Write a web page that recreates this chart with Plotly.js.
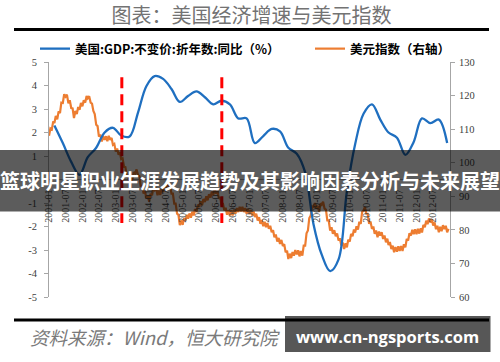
<!DOCTYPE html>
<html><head><meta charset="utf-8">
<script src="https://cdn.plot.ly/plotly-3.0.1.min.js"></script>
<style>html,body{margin:0;padding:0;background:#fff;} #chart{width:500px;height:362px;}</style>
</head><body><div id="chart"></div>
<script>
// ---------- DATA ----------
const gdpDates = [
 '2001-03-01','2001-06-01','2001-09-01','2001-12-01',
 '2002-03-01','2002-06-01','2002-09-01','2002-12-01',
 '2003-03-01','2003-06-01','2003-09-01','2003-12-01',
 '2004-03-01','2004-06-01','2004-09-01','2004-12-01',
 '2005-03-01','2005-06-01','2005-09-01','2005-12-01',
 '2006-03-01','2006-06-01','2006-09-01','2006-12-01',
 '2007-03-01','2007-06-01','2007-09-01','2007-12-01',
 '2008-03-01','2008-06-01','2008-09-01','2008-12-01',
 '2009-03-01','2009-06-01','2009-09-01','2009-12-01',
 '2010-03-01','2010-06-01','2010-09-01','2010-12-01',
 '2011-03-01','2011-06-01','2011-09-01','2011-12-01',
 '2012-03-01','2012-06-01','2012-09-01','2012-12-01'];
const gdpGrowth = [
 2.3, 1.55, 0.75, 0.2,
 0.95, 1.35, 2.0, 2.2,
 1.87, 1.83, 2.85, 3.97,
 4.4, 4.28, 3.85, 3.3,
 3.55, 3.75, 3.5, 3.2,
 3.35, 3.2, 2.6, 2.6,
 1.55, 1.85, 2.15, 2.05,
 1.35, 1.1, 0.3, -1.9,
 -3.2, -3.9, -3.4, -0.5,
 1.5, 2.8, 3.2, 2.55,
 2.0, 1.78, 1.05, 1.6,
 2.6, 2.4, 2.55, 1.55];

// US dollar index, two readings per month (1st, 16th)
const usdYears = [2001,2002,2003,2004,2005,2006,2007,2008,2009,2010,2011,2012];
const usd2001 = [108.0,110.2,109.9,112.3,111.8,113.9,112.9,115.3,114.8,117.9,117.8,120.4,119.7,120.3,117.7,118.6,116.3,116.2,113.3,115.4,114.5,116.6,115.8,117.8];
const usd2002 = [116.8,118.6,117.9,119.9,119.2,119.8,117.9,117.6,115.4,114.5,111.3,110.9,107.8,108.4,106.3,107.9,106.8,107.9,106.4,108.0,106.8,107.4,105.3,105.6];
const usd2003 = [103.3,104.2,102.4,103.1,101.1,101.3,98.8,98.7,95.9,96.1,93.8,95.7,94.8,97.2,96.8,98.0,96.3,96.0,92.8,93.3,90.8,91.6,89.3,90.2];
const usd2004 = [88.4,90.8,90.3,92.4,91.8,92.5,90.3,91.7,90.4,92.2,91.3,93.2,92.3,94.0,92.8,93.3,90.8,90.8,87.8,87.8,84.8,84.5,81.4,82.8];
const usd2005 = [81.5,83.5,82.8,84.5,83.3,84.9,83.6,85.4,84.3,86.2,85.3,87.5,86.8,88.5,87.3,89.2,88.3,90.0,88.8,90.6,89.6,91.4,90.3,92.0];
const usd2006 = [90.8,91.5,89.3,89.7,87.3,88.0,85.8,86.6,84.5,85.8,84.3,85.8,84.3,86.0,84.8,86.5,85.3,86.9,85.5,86.9,85.3,86.5,84.8,86.2];
const usd2007 = [84.7,85.9,84.3,85.5,83.8,84.8,82.8,83.8,81.8,82.9,81.1,82.4,80.8,82.0,80.3,81.2,79.3,79.9,77.8,78.6,76.5,77.6,75.8,77.0];
const usd2008 = [75.2,75.7,73.3,73.8,71.3,72.9,71.6,73.4,72.3,74.0,72.7,73.9,72.1,73.7,72.3,75.3,75.3,79.0,79.8,83.5,84.3,87.0,86.8,88.0];
const usd2009 = [86.3,87.2,85.3,87.9,87.5,88.4,86.3,86.0,82.8,82.8,79.8,80.8,78.8,79.9,78.1,78.9,76.8,77.5,75.3,76.2,74.3,76.0,74.8,77.1];
const usd2010 = [76.5,78.8,78.1,80.1,79.2,81.1,80.1,82.4,81.8,85.3,85.8,86.8,84.8,84.8,81.8,82.5,80.3,81.0,78.8,79.8,77.8,79.5,78.3,79.3];
const usd2011 = [77.3,78.3,76.3,77.4,75.5,76.4,74.3,75.3,73.3,74.9,73.5,75.1,73.7,75.2,73.7,75.7,74.8,77.3,76.8,79.0,78.3,80.0,78.7,80.2];
const usd2012 = [78.7,80.3,78.9,80.5,79.2,81.5,80.8,82.7,81.7,83.4,82.2,83.2,81.3,82.2,80.2,81.2,79.3,80.9,79.6,81.4,80.2,81.2,79.3,80.3];

const xTickLabels = ['2001-01','2001-07','2002-01','2002-07','2003-01','2003-07','2004-01','2004-07',
 '2005-01','2005-07','2006-01','2006-07','2007-01','2007-07','2008-01','2008-07',
 '2009-01','2009-07','2010-01','2010-07','2011-01','2011-07','2012-01','2012-07'];
const leftTicks = [-5,-4,-3,-2,-1,0,1,2,3,4,5];
const rightTicks = [60,70,80,90,100,110,120,130];
const eventDates = ['2003-03-08','2006-03-05'];
const eventTop = 4.35, eventBottom = -1.85;

const seriesGdpName = '美国:GDP:不变价:折年数:同比（%）';
const seriesUsdName = '美元指数（右轴）';
const chartTitle = '图表：美国经济增速与美元指数';
const sourceText = '资料来源：Wind，恒大研究院';
const bandText = '篮球明星职业生涯发展趋势及其影响因素分析与未来展望';
const watermarkText = 'www.cn-ngsports.com';

// ---------- BUILD ----------
const usdValues = [].concat(usd2001,usd2002,usd2003,usd2004,usd2005,usd2006,usd2007,usd2008,usd2009,usd2010,usd2011,usd2012);
const usdDates = [];
usdYears.forEach(y => { for (let m = 1; m <= 12; m++) { const mm = String(m).padStart(2,'0'); usdDates.push(y+'-'+mm+'-01', y+'-'+mm+'-16'); } });

const W=500,H=362,ML=49,MR=50,MT=62,MB=65;
const PW=W-ML-MR, PH=H-MT-MB;
const px = x => (x-ML)/PW, py = y => (H-MB-y)/PH;

const serif = 'Liberation Serif, Times New Roman, serif';
const cjk = 'Noto Sans CJK SC, sans-serif';

const traces = [
 {x: usdDates, y: usdValues, name: seriesUsdName, type:'scatter', mode:'lines', yaxis:'y',
  line:{color:'#ED7D31', width:2.2}, legend:'legend2'},
 {x: gdpDates, y: gdpGrowth, name: seriesGdpName, type:'scatter', mode:'lines', yaxis:'y2',
  line:{color:'#1F6FC0', width:2.3, shape:'spline', smoothing:1}, legend:'legend'}
];

const shapes = [
 {type:'line', xref:'paper', yref:'paper', x0:px(14), x1:px(489), y0:py(29.5), y1:py(29.5), line:{color:'#000', width:3}},
 {type:'line', xref:'paper', yref:'paper', x0:px(14), x1:px(489), y0:py(320), y1:py(320), line:{color:'#000', width:3}}
];
eventDates.forEach(d => shapes.push({type:'line', xref:'x', yref:'y2', x0:d, x1:d, y0:eventTop, y1:eventBottom, layer:'above',
  line:{color:'#FF0000', width:3, dash:'11px,6px'}}));
shapes.push({type:'rect', xref:'paper', yref:'paper', x0:px(0), x1:px(500), y0:py(211.5), y1:py(150), layer:'above',
  fillcolor:'rgba(0,0,0,0.64)', line:{width:0}});
shapes.push({type:'rect', xref:'paper', yref:'paper', x0:px(285), x1:px(490.5), y0:py(352), y1:py(316), layer:'above',
  fillcolor:'rgba(0,0,0,0.66)', line:{width:0}});

const layout = {
 width:W, height:H, margin:{l:ML, r:MR, t:MT, b:MB, pad:0},
 paper_bgcolor:'#fff', plot_bgcolor:'rgba(0,0,0,0)',
 title:{text:chartTitle, x:251.5/W, xanchor:'center', xref:'container', y:1-16/H, yanchor:'middle', yref:'container',
  font:{family:cjk, size:20, color:'#737373'}},
 xaxis:{type:'date', range:['2001-01-01','2013-01-01'], anchor:'free', position:0.5,
  tickmode:'array', tickvals:xTickLabels.map(s => s+'-01'), ticktext:xTickLabels, tickangle:-90,
  tickfont:{family:serif, size:10, color:'#404040'}, ticks:'', showline:false, showgrid:false, zeroline:false,
  ticklabelstandoff:7},
 yaxis:{range:[60,130], side:'right', tickmode:'array', tickvals:rightTicks, ticktext:rightTicks.map(String),
  showline:true, linecolor:'#a6a6a6', linewidth:1, ticks:'outside', ticklen:4, tickcolor:'#a6a6a6',
  showgrid:false, zeroline:false, tickfont:{family:serif, size:10.5, color:'#404040'}, ticklabelstandoff:2},
 yaxis2:{range:[-5,5], side:'left', overlaying:'y', tickmode:'array', tickvals:leftTicks, ticktext:leftTicks.map(String),
  showline:true, linecolor:'#a6a6a6', linewidth:1, ticks:'outside', ticklen:4, tickcolor:'#a6a6a6',
  showgrid:false, zeroline:true, zerolinecolor:'#a6a6a6', zerolinewidth:1,
  tickfont:{family:serif, size:10.5, color:'#404040'}, ticklabelstandoff:5},
 showlegend:true,
 legend:{x:px(35), y:py(49), xanchor:'left', yanchor:'middle', orientation:'h', bgcolor:'rgba(0,0,0,0)',
  font:{family:cjk, size:12.5, color:'#000', weight:'bold'}, itemwidth:30},
 legend2:{x:px(310), y:py(49), xanchor:'left', yanchor:'middle', orientation:'h', bgcolor:'rgba(0,0,0,0)',
  font:{family:cjk, size:12.5, color:'#000', weight:'bold'}, itemwidth:30},
 shapes: shapes,
 annotations:[
  {xref:'paper', yref:'paper', x:px(28), y:py(337), xanchor:'left', yanchor:'middle', showarrow:false,
   text:sourceText, font:{family:cjk, size:18.5, color:'#7a7a7a', style:'italic'}},
  {xref:'paper', yref:'paper', x:px(250), y:py(180.5), xanchor:'center', yanchor:'middle', showarrow:false,
   text:bandText, font:{family:cjk, size:20, color:'#ffffff', weight:'bold'}},
  {xref:'paper', yref:'paper', x:px(387.5), y:py(336), xanchor:'center', yanchor:'middle', showarrow:false,
   text:watermarkText, font:{family:'Open Sans, Noto Sans, sans-serif', size:16.5, color:'#ffffff', weight:'bold'}}
 ]
};

Plotly.newPlot('chart', traces, layout, {displayModeBar:false, staticPlot:true});
</script>
</body></html>
